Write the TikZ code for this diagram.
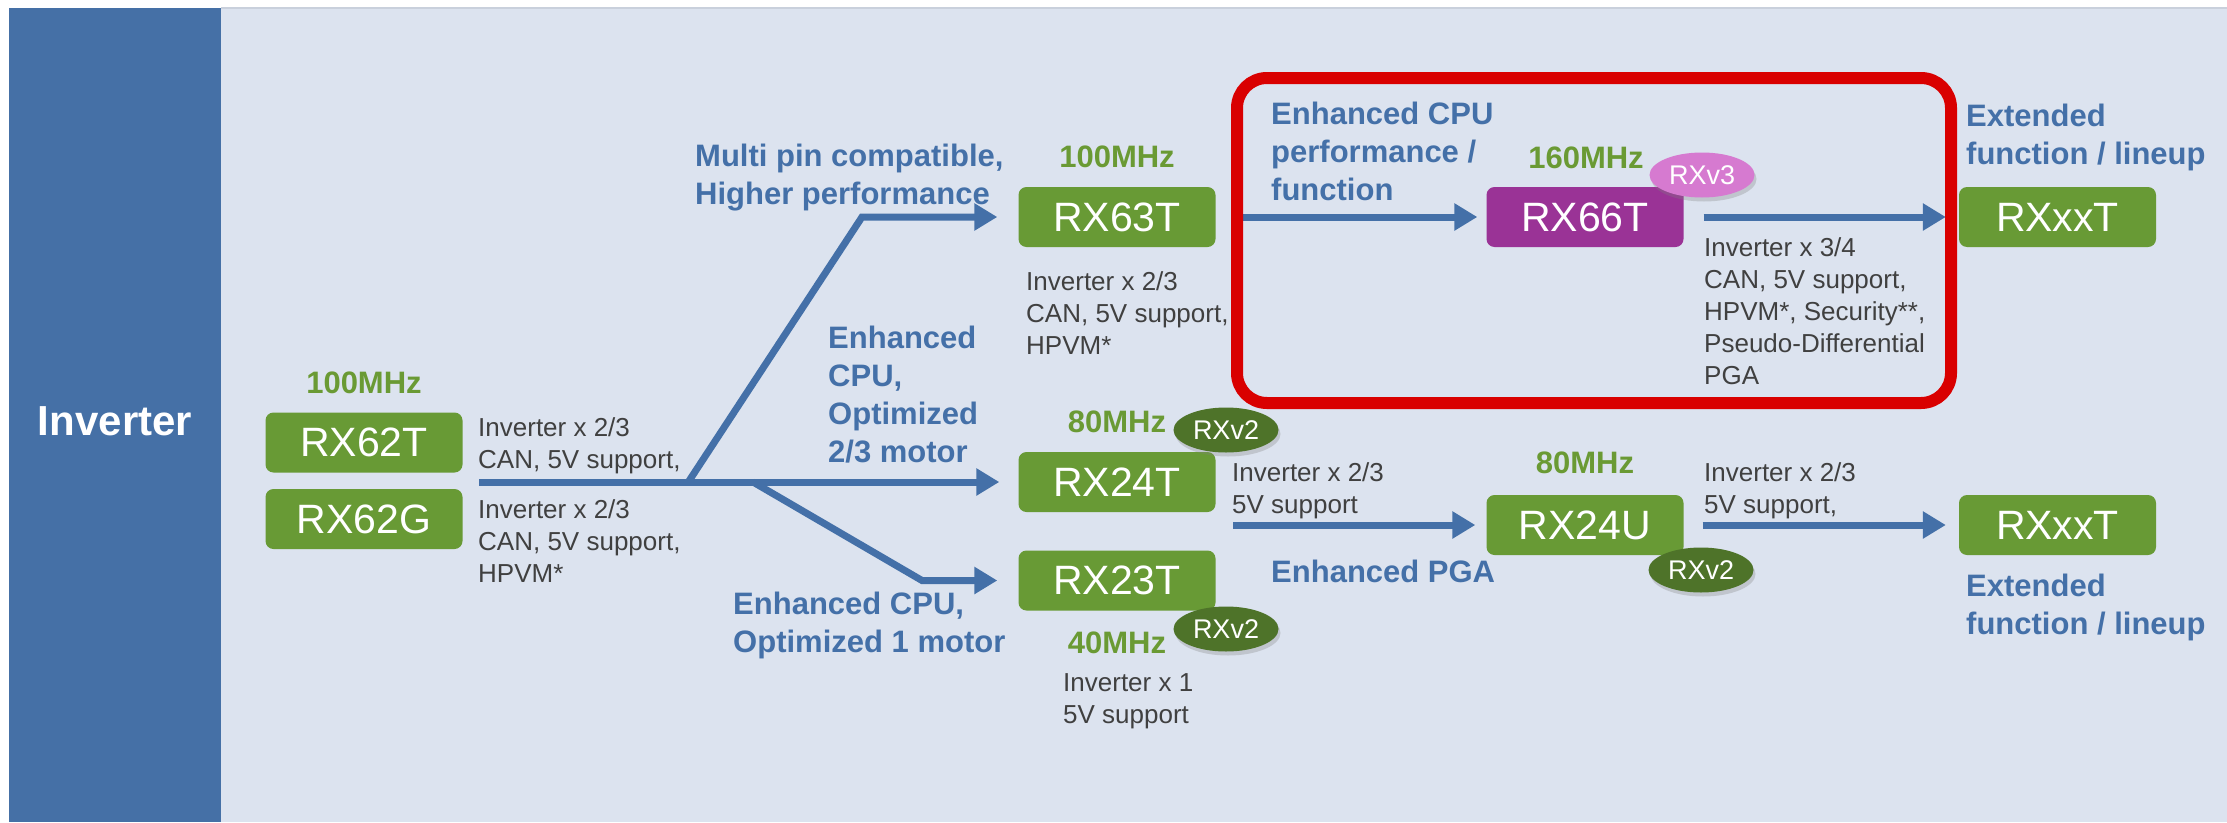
\documentclass[tikz,border=0pt]{standalone}
\usepackage{fontspec}
\setmainfont{Liberation Sans}
\usetikzlibrary{arrows.meta,shadows,shapes.geometric,calc}
\definecolor{stripblue}{HTML}{4570A6}
\definecolor{bgblue}{HTML}{DCE3EF}
\definecolor{topline}{HTML}{C9D0DC}
\definecolor{flowblue}{HTML}{4470A8}
\definecolor{lblblue}{HTML}{4470A8}
\definecolor{chipgreen}{HTML}{689A35}
\definecolor{mhzgreen}{HTML}{6A9A34}
\definecolor{verdark}{HTML}{4E7329}
\definecolor{chippurple}{HTML}{9A3396}
\definecolor{verpink}{HTML}{D67AD0}
\definecolor{framered}{HTML}{D90000}
\definecolor{notegray}{HTML}{404040}
\begin{document}
\begin{tikzpicture}[x=1pt,y=-1pt,
  chip/.style={rounded corners=8pt, fill=chipgreen, text=white, minimum width=197pt, minimum height=60pt, inner sep=0pt, font=\fontsize{41}{41}\selectfont},
  ver/.style={ellipse, fill=verdark, text=white, minimum width=105pt, minimum height=45pt, inner sep=0pt, font=\fontsize{27}{27}\selectfont, drop shadow={opacity=0.3, shadow xshift=2pt, shadow yshift=-4pt}},
  mhz/.style={text=mhzgreen, font=\bfseries\fontsize{31}{31}\selectfont, inner sep=0pt},
  lbl/.style={text=lblblue, font=\bfseries\fontsize{31}{38}\selectfont, align=left, anchor=north west, inner sep=0pt},
  note/.style={text=notegray, font=\fontsize{26}{32}\selectfont, align=left, anchor=north west, inner sep=0pt},
  flow/.style={draw=flowblue, line width=7pt, -{Triangle[length=23pt,width=26pt]}},
]
\useasboundingbox (0,0) rectangle (2227,822);
\fill[white] (0,0) rectangle (2227,822);
\fill[bgblue] (221,8) rectangle (2227,822);
\fill[stripblue] (9,8) rectangle (221,822);
\draw[topline, line width=1.5pt] (221,8) -- (2227,8);

\node[text=white, font=\bfseries\fontsize{42}{42}\selectfont] (inv) at (115,421) {Inverter};

% chips
\node[chip] (RX62T) at (364,442.5) {RX62T};
\node[chip] (RX62G) at (364,519) {RX62G};
\node[chip] (RX63T) at (1117,217) {RX63T};
\node[chip] (RX24T) at (1117,482) {RX24T};
\node[chip] (RX23T) at (1117,580.5) {RX23T};
\node[chip, fill=chippurple] (RX66T) at (1585,217) {RX66T};
\node[chip] (RX24U) at (1585,525) {RX24U};
\node[chip] (RXxxTa) at (2057.5,217) {RXxxT};
\node[chip] (RXxxTb) at (2057.5,525) {RXxxT};

% connectors
\coordinate (s0) at (479,482);
\coordinate (j1) at (687,484);
\coordinate (b1) at (862,217);
\coordinate (j2) at (753,482);
\coordinate (b2) at (922,580.5);
\coordinate (s1) at (1233,525);
\draw[flow, shorten >=19pt] (s0) -- (RX24T.west);
\draw[flow, shorten >=21pt] (j1) -- (b1) -- (RX63T.west);
\draw[flow, shorten >=21pt] (j2) -- (b2) -- (RX23T.west);
\draw[flow, shorten <=27pt, shorten >=9pt] (RX63T.east) -- (RX66T.west);
\draw[flow, shorten <=20pt, shorten >=13pt] (RX66T.east) -- (RXxxTa.west);
\draw[flow, shorten >=11pt] (s1) -- (RX24U.west);
\draw[flow, shorten <=19pt, shorten >=13pt] (RX24U.east) -- (RXxxTb.west);

% red frame
\draw[framered, line width=12pt, rounded corners=30pt] (1237,78) rectangle (1951,403);

% core versions
\node[ver] (v24T) at (1226,430) {RXv2};
\node[ver] (v23T) at (1226,629) {RXv2};
\node[ver] (v24U) at (1701,570) {RXv2};
\node[ver, fill=verpink] (v66T) at (1702,175) {RXv3};

% frequencies
\node[mhz] (f62) at (364,383) {100MHz};
\node[mhz] (f63) at (1117,157) {100MHz};
\node[mhz] (f24T) at (1117,422) {80MHz};
\node[mhz] (f23T) at (1117,643) {40MHz};
\node[mhz] (f24U) at (1585,463) {80MHz};
\node[mhz] (f66) at (1586,158) {160MHz};

% notes
\node[note] (n62T) at (478,417) {Inverter x 2/3\\CAN, 5V support,};
\node[note] (n62G) at (478,499) {Inverter x 2/3\\CAN, 5V support,\\HPVM*};
\node[note] (n63T) at (1026,271) {Inverter x 2/3\\CAN, 5V support,\\HPVM*};
\node[note] (n24T) at (1232,462) {Inverter x 2/3\\5V support};
\node[note] (n23T) at (1063,673) {Inverter x 1\\5V support};
\node[note] (n66T) at (1704,237) {Inverter x 3/4\\CAN, 5V support,\\HPVM*, Security**,\\Pseudo-Differential\\PGA};
\node[note] (n24U) at (1704,462) {Inverter x 2/3\\5V support,};

% labels
\node[lbl] (l1) at (695,144) {Multi pin compatible,\\Higher performance};
\node[lbl] (l2) at (828,326) {Enhanced\\CPU,\\Optimized\\2/3 motor};
\node[lbl] (l3) at (733,592) {Enhanced CPU,\\Optimized 1 motor};
\node[lbl] (l4) at (1271,102) {Enhanced CPU\\performance /\\function};
\node[lbl] (l5) at (1271,560) {Enhanced PGA};
\node[lbl] (l6) at (1966,104) {Extended\\function / lineup};
\node[lbl] (l7) at (1966,574) {Extended\\function / lineup};
\end{tikzpicture}
\end{document}
